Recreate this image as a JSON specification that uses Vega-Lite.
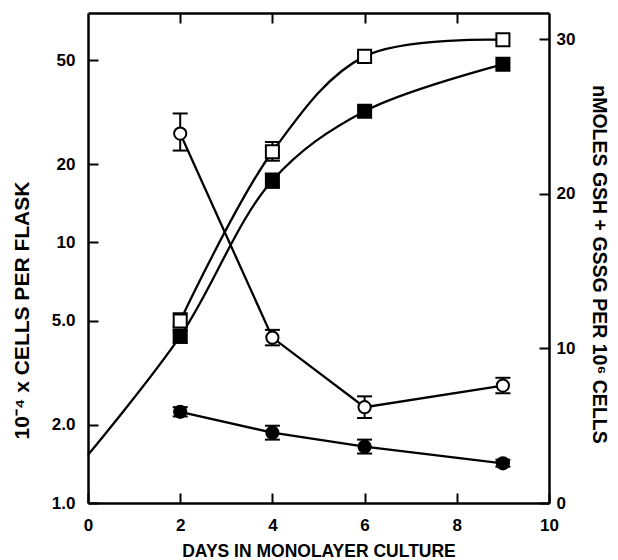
{
  "$schema": "https://vega.github.io/schema/vega-lite/v6.json",
  "width": 461,
  "height": 490,
  "autosize": {"type": "none"},
  "padding": {"left": 88, "top": 13, "right": 69, "bottom": 57},
  "background": "white",
  "config": {
    "view": {"stroke": null},
    "font": "Liberation Sans",
    "axis": {
      "grid": false,
      "domainColor": "black",
      "domainWidth": 2.5,
      "tickColor": "black",
      "tickWidth": 2,
      "labelColor": "black",
      "titleColor": "black",
      "labelFont": "Liberation Sans",
      "titleFont": "Liberation Sans",
      "labelFontWeight": "bold",
      "titleFontWeight": "bold",
      "labelFontSize": 17
    }
  },
  "datasets": {
    "cells": [
      {"day": 0, "type": "filled", "cells": 1.53},
      {"day": 2, "type": "open", "cells": 5.0, "lo": 4.75, "hi": 5.35},
      {"day": 2, "type": "filled", "cells": 4.37, "lo": 4.12, "hi": 4.6},
      {"day": 4, "type": "open", "cells": 22.3, "lo": 20.6, "hi": 24.3},
      {"day": 4, "type": "filled", "cells": 17.3, "lo": 16.2, "hi": 18.4},
      {"day": 6, "type": "open", "cells": 51.8},
      {"day": 6, "type": "filled", "cells": 31.9},
      {"day": 9, "type": "open", "cells": 60},
      {"day": 9, "type": "filled", "cells": 48.3}
    ],
    "gsh": [
      {"day": 2, "type": "open", "gsh": 23.9, "lo": 22.8, "hi": 25.2},
      {"day": 4, "type": "open", "gsh": 10.7, "lo": 10.2, "hi": 11.2},
      {"day": 6, "type": "open", "gsh": 6.2, "lo": 5.5, "hi": 6.9},
      {"day": 9, "type": "open", "gsh": 7.6, "lo": 7.1, "hi": 8.1},
      {"day": 2, "type": "filled", "gsh": 5.9, "lo": 5.6, "hi": 6.2},
      {"day": 4, "type": "filled", "gsh": 4.55, "lo": 4.1, "hi": 5.0},
      {"day": 6, "type": "filled", "gsh": 3.64, "lo": 3.2, "hi": 4.1},
      {"day": 9, "type": "filled", "gsh": 2.57, "lo": 2.35, "hi": 2.8}
    ]
  },
  "layer": [
    {
      "data": {"name": "cells"},
      "encoding": {
        "x": {
          "field": "day", "type": "quantitative",
          "scale": {"domain": [0, 10], "nice": false},
          "axis": {
            "orient": "bottom",
            "values": [0, 2, 4, 6, 8, 10],
            "tickSize": -10,
            "labelPadding": 24,
            "labelFlush": false,
            "title": "DAYS IN MONOLAYER CULTURE",
            "titleFontSize": 17.5,
            "titlePadding": 9
          }
        }
      },
      "layer": [
        {
          "mark": {"type": "line", "interpolate": "catmull-rom", "color": "black", "strokeWidth": 2.3},
          "encoding": {
            "y": {
              "field": "cells", "type": "quantitative",
              "title": "10⁻⁴ x CELLS PER FLASK",
              "scale": {"type": "log", "domain": [1, 76], "nice": false},
              "axis": {
                "orient": "left",
                "values": [1, 2, 5, 10, 20, 50],
                "labelExpr": "datum.value >= 10 ? format(datum.value, 'd') : format(datum.value, '.1f')",
                "tickSize": -10,
                "labelPadding": 23,
                "labelFlush": false,
                "titleFontSize": 21,
                "titleAngle": -90,
                "titleX": -66,
                "titleY": 297,
                "titleAlign": "center",
                "titleBaseline": "middle"
              }
            },
            "detail": {"field": "type"}
          }
        },
        {
          "transform": [{"filter": "isValid(datum.lo)"}],
          "mark": {"type": "errorbar", "ticks": {"color": "black", "strokeWidth": 2, "opacity": 1}, "rule": {"color": "black", "strokeWidth": 2, "opacity": 1}, "size": 15, "thickness": 2},
          "encoding": {
            "y": {"field": "lo", "type": "quantitative", "title": "10⁻⁴ x CELLS PER FLASK"},
            "y2": {"field": "hi"}
          }
        },
        {
          "transform": [{"filter": "datum.day > 0"}],
          "mark": {"type": "point", "shape": "square", "filled": true, "stroke": "black", "strokeWidth": 2, "size": 170, "opacity": 1},
          "encoding": {
            "y": {"field": "cells", "type": "quantitative", "title": "10⁻⁴ x CELLS PER FLASK"},
            "fill": {"field": "type", "type": "nominal", "scale": {"domain": ["filled", "open"], "range": ["black", "white"]}, "legend": null}
          }
        }
      ]
    },
    {
      "data": {"name": "gsh"},
      "encoding": {
        "x": {
          "field": "day", "type": "quantitative",
          "scale": {"domain": [0, 10], "nice": false},
          "axis": {
            "orient": "top",
            "values": [2, 4, 6, 8],
            "tickSize": -10,
            "labels": false,
            "title": null
          }
        }
      },
      "layer": [
        {
          "mark": {"type": "line", "color": "black", "strokeWidth": 2.3},
          "encoding": {
            "y": {
              "field": "gsh", "type": "quantitative",
              "title": "nMOLES GSH + GSSG PER 10⁶ CELLS",
              "scale": {"domain": [0, 31.7], "nice": false},
              "axis": {
                "orient": "right",
                "values": [0, 10, 20, 30],
                "tickSize": -10,
                "labelPadding": 17,
                "labelFlush": false,
                "titleFontSize": 19.5,
                "titleAngle": 90,
                "titleX": 49,
                "titleY": 251,
                "titleAlign": "center",
                "titleBaseline": "middle"
              }
            },
            "detail": {"field": "type"}
          }
        },
        {
          "mark": {"type": "errorbar", "ticks": {"color": "black", "strokeWidth": 2, "opacity": 1}, "rule": {"color": "black", "strokeWidth": 2, "opacity": 1}, "size": 15, "thickness": 2},
          "encoding": {
            "y": {"field": "lo", "type": "quantitative", "title": "nMOLES GSH + GSSG PER 10⁶ CELLS"},
            "y2": {"field": "hi"}
          }
        },
        {
          "mark": {"type": "point", "shape": "circle", "filled": true, "stroke": "black", "strokeWidth": 2, "size": 150, "opacity": 1},
          "encoding": {
            "y": {"field": "gsh", "type": "quantitative", "title": "nMOLES GSH + GSSG PER 10⁶ CELLS"},
            "fill": {"field": "type", "type": "nominal", "scale": {"domain": ["filled", "open"], "range": ["black", "white"]}, "legend": null}
          }
        }
      ]
    }
  ],
  "resolve": {"scale": {"y": "independent", "x": "independent"}}
}
